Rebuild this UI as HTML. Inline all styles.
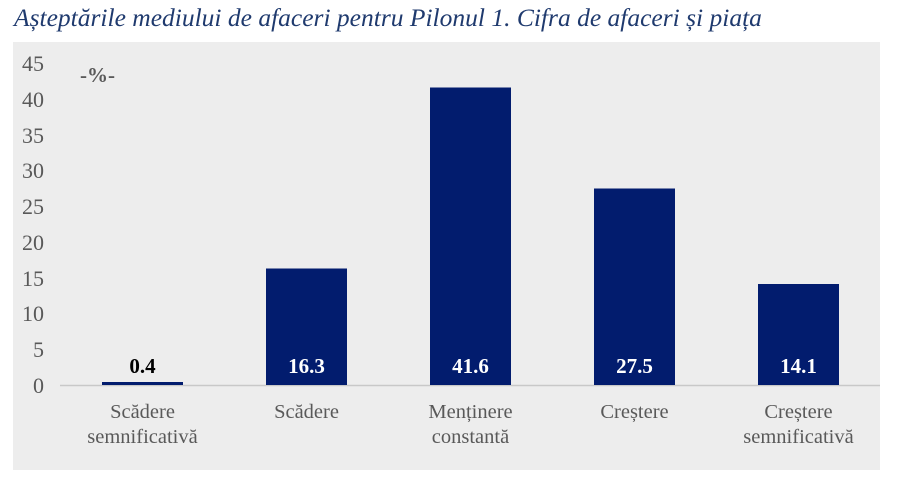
<!DOCTYPE html>
<html><head><style>
body{margin:0;background:#fff;width:900px;height:477px;overflow:hidden}
svg{display:block}
</style></head><body>
<svg width="900" height="477" xmlns="http://www.w3.org/2000/svg" font-family="Liberation Serif, serif">
<text x="14" y="26" font-size="25.5" font-style="italic" fill="#1f3a6e">Așteptările mediului de afaceri pentru Pilonul 1. Cifra de afaceri și piața</text>
<rect x="13" y="42" width="867" height="428" fill="#ededed"/>
<g font-size="22" fill="#595959" text-anchor="end">
<text x="44" y="71">45</text><text x="44" y="107">40</text><text x="44" y="143">35</text>
<text x="44" y="178">30</text><text x="44" y="214">25</text><text x="44" y="250">20</text>
<text x="44" y="286">15</text><text x="44" y="321">10</text><text x="44" y="357">5</text>
<text x="44" y="393">0</text>
</g>
<text x="80" y="82" font-size="21" font-weight="bold" fill="#595959">-%-</text>
<line x1="60" y1="385.5" x2="880" y2="385.5" stroke="#c8c8c8" stroke-width="1.5"/>
<g fill="#021c6e">
<rect x="102" y="382" width="81" height="3"/>
<rect x="266" y="268.5" width="81" height="116.5"/>
<rect x="430" y="87.5" width="81" height="297.5"/>
<rect x="594" y="188.5" width="81" height="196.5"/>
<rect x="758" y="284" width="81" height="101"/>
</g>
<g font-size="21" font-weight="bold" text-anchor="middle">
<text x="142.5" y="373" fill="#000">0.4</text>
<text x="306.5" y="373" fill="#fff">16.3</text>
<text x="470.5" y="373" fill="#fff">41.6</text>
<text x="634.5" y="373" fill="#fff">27.5</text>
<text x="798.5" y="373" fill="#fff">14.1</text>
</g>
<g font-size="20.5" fill="#595959" text-anchor="middle">
<text x="142.5" y="418">Scădere</text><text x="142.5" y="443">semnificativă</text>
<text x="306.5" y="418">Scădere</text>
<text x="470.5" y="418">Menținere</text><text x="470.5" y="443">constantă</text>
<text x="634.5" y="418">Creștere</text>
<text x="798.5" y="418">Creștere</text><text x="798.5" y="443">semnificativă</text>
</g>
</svg>
</body></html>
